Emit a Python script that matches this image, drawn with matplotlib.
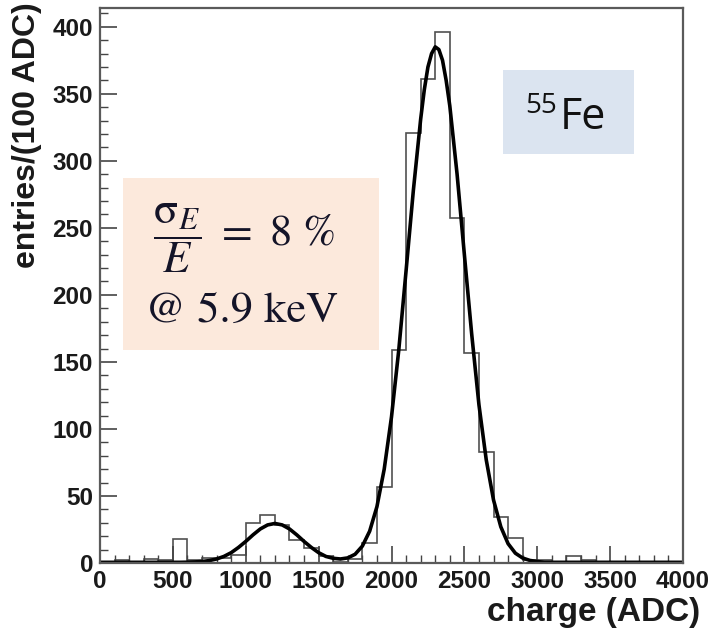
import numpy as np
import matplotlib.pyplot as plt
from matplotlib.patches import Rectangle

# histogram: 100 ADC bins from 0 to 4000
bin_edges = list(range(0, 4100, 100))
counts = [1, 2, 1, 3, 2, 18, 2, 4, 4, 6,
          30, 36, 28, 17, 11, 5, 1, 3, 15, 57,
          159, 321, 361, 396, 257, 157, 83, 34, 19, 2,
          2, 1, 5, 2, 1, 0, 1, 0, 1, 0]

# fit curve (every 50 ADC, denser at the peak)
fit_x = (list(range(0, 2200, 50)) + [2200, 2225, 2250, 2275, 2300, 2325, 2350, 2375, 2400]
         + list(range(2450, 4050, 50)))
fit_y = [0.5, 0.5, 0.5, 0.5, 0.5, 0.5, 0.5, 0.5, 0.5, 0.5, 0.5, 0.5,
         0.6, 0.8, 1.1, 1.8, 3.0, 4.9, 7.7, 11.6, 16.1, 21.0, 25.4, 28.4,
         29.5, 28.4, 25.4, 21.0, 16.1, 11.6, 7.7, 4.9, 3.5, 3.0, 3.8, 6.5,
         12.6, 23.7, 42, 70, 109, 159, 218, 278,
         331, 353, 370, 380, 385, 383, 375, 360, 341,
         290, 230, 171, 118, 77, 47, 27, 14.4, 7.3, 3.7, 1.9,
         1.1, 0.5, 0.5, 0.5, 0.5, 0.5, 0.5, 0.5, 0.5, 0.5, 0.5, 0.5,
         0.5, 0.5, 0.5, 0.5, 0.5, 0.5, 0.5, 0.5, 0.5]

x_ticks = [0, 500, 1000, 1500, 2000, 2500, 3000, 3500, 4000]
y_ticks = [0, 50, 100, 150, 200, 250, 300, 350, 400]

W, H = 715, 634
plt.rcParams['font.family'] = ['Liberation Sans', 'DejaVu Sans']
plt.rcParams['mathtext.fontset'] = 'stix'

fig = plt.figure(figsize=(W / 100, H / 100), dpi=100)
ax = fig.add_axes([100 / W, 1 - 563 / H, 583 / W, 555 / H])

ax.stairs(counts, bin_edges, color='#505050', lw=1.2)
ax.plot(fit_x, fit_y, color='black', lw=2.6, solid_capstyle='round', solid_joinstyle='round')

ax.set_xlim(0, 4000)
ax.set_ylim(0, 414)
ax.set_xticks(x_ticks)
ax.set_yticks(y_ticks)
ax.set_xticks(np.arange(0, 4001, 100), minor=True)
ax.set_yticks(np.arange(0, 415, 10), minor=True)
ax.tick_params(which='major', direction='in', length=12, width=1.2, color='#444444',
               labelsize=17.5, pad=5, top=False, right=False)
ax.tick_params(which='minor', direction='in', length=6, width=1.0, color='#444444',
               top=False, right=False)
for lab in ax.get_xticklabels() + ax.get_yticklabels():
    lab.set_fontweight('bold')
    lab.set_color('#1a1a1a')
for s in ax.spines.values():
    s.set_color('#5a5a5a')
    s.set_linewidth(1.6)

fig.text(700 / W, 1 - 612 / H, 'charge (ADC)', ha='right', va='center',
         fontsize=24, fontweight='bold', color='#1a1a1a')
fig.text(27 / W, 1 - 2 / H, 'entries/(100 ADC)', rotation=90, ha='center', va='top',
         fontsize=23, fontweight='bold', color='#1a1a1a')

# annotation boxes
fig.patches.append(Rectangle((123 / W, 1 - 350 / H), 256 / W, 172 / H,
                             transform=fig.transFigure, facecolor='#fce9dc',
                             edgecolor='none', zorder=5))
fig.patches.append(Rectangle((503 / W, 1 - 154 / H), 131 / W, 84 / H,
                             transform=fig.transFigure, facecolor='#dbe4f0',
                             edgecolor='none', zorder=5))

fig.text(153 / W, 1 - 238 / H, r'$\dfrac{\mathrm{\sigma}_E}{E}\ =\ 8\ \%$', ha='left', va='center',
         fontsize=32, color='#141428', zorder=6)
fig.text(145 / W, 1 - 312 / H, '@ 5.9 keV', ha='left', va='center',
         fontsize=32, color='#141428', family='STIXGeneral', zorder=6)
fig.text(525 / W, 1 - 113 / H, '55', ha='left', va='baseline',
         fontsize=20, color='#111111', family='Open Sans', zorder=6)
fig.text(560 / W, 1 - 129 / H, 'Fe', ha='left', va='baseline',
         fontsize=31, color='#111111', family='Open Sans', zorder=6)

fig.savefig('out.png', dpi=100)
